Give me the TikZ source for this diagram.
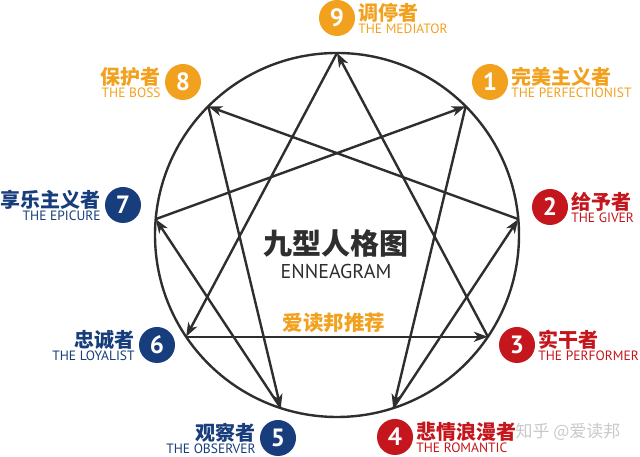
\documentclass[tikz,border=0pt]{standalone}
\usepackage{fontspec}
\setmainfont{PT Sans}
\newfontfamily\cjk{Noto Sans CJK SC}
\usetikzlibrary{calc,positioning,arrows.meta}

\definecolor{ennGold}{HTML}{F2A11E}
\definecolor{ennBlue}{HTML}{173D7C}
\definecolor{ennRed}{HTML}{C4161C}
\definecolor{ennLine}{HTML}{2E2E2E}
\definecolor{ennMark}{HTML}{C9C9C9}

\begin{document}
\begin{tikzpicture}[x=1pt,y=1pt,
    ennLine/.style={line width=2.4pt, draw=ennLine},
    ennArrow/.style={ennLine, -{Stealth[length=14pt,width=10pt,inset=4pt]}},
    badge/.style={circle, fill=#1, minimum size=36pt, inner sep=0pt, text=white,
        font=\bfseries\fontsize{25}{25}\selectfont},
    cnTitle/.style={inner sep=0pt, text=#1, font=\cjk\bfseries\fontsize{20}{20}\selectfont},
    enSub/.style={inner sep=0pt, text=#1, font=\fontsize{13.5}{13.5}\selectfont},
]

\newcommand{\drawLabelRight}[4]{
    \node[cnTitle=#2, anchor=west] (nTitle#1) at ($ (nBadge#1.east) + (3,5) $) {#3};
    \node[enSub=#2, anchor=west] (nSub#1) at ($ (nBadge#1.east) + (3,-11) $) {#4};
}

\newcommand{\drawLabelLeft}[4]{
    \node[cnTitle=#2, anchor=east] (nTitle#1) at ($ (nBadge#1.west) + (-4,5) $) {#3};
    \node[enSub=#2, anchor=east] (nSub#1) at ($ (nBadge#1.west) + (-4,-11) $) {#4};
}

\useasboundingbox (0,0) rectangle (640,457);

\coordinate (cCenterPt) at (337,222);
\draw[ennLine] (cCenterPt) circle (182pt);

\foreach \n/\a in {9/90,1/45,2/5,3/-34,4/-72,5/-108,6/214,7/175,8/135}
{
    \coordinate (cPt\n) at ($ (cCenterPt) + (\a:182pt) $);
}

\foreach \s/\e in {9/6,6/3,3/9,1/4,4/2,2/8,8/5,5/7,7/1}
{
    \draw[ennArrow] (cPt\s) -- (cPt\e);
}

\node[badge=ennGold] (nBadge9) at (337,439) {9};
\node[badge=ennGold] (nBadge8) at (183,375) {8};
\node[badge=ennGold] (nBadge1) at (490,375) {1};
\node[badge=ennBlue] (nBadge7) at (123,252) {7};
\node[badge=ennRed] (nBadge2) at (550,250) {2};
\node[badge=ennBlue] (nBadge6) at (157,112) {6};
\node[badge=ennRed] (nBadge3) at (517,112) {3};
\node[badge=ennBlue] (nBadge5) at (278,19) {5};
\node[badge=ennRed] (nBadge4) at (395,20) {4};

\drawLabelRight{9}{ennGold}{调停者}{THE MEDIATOR}
\drawLabelRight{1}{ennGold}{完美主义者}{THE PERFECTIONIST}
\drawLabelRight{2}{ennRed}{给予者}{THE GIVER}
\drawLabelRight{3}{ennRed}{实干者}{THE PERFORMER}
\drawLabelRight{4}{ennRed}{悲情浪漫者}{THE ROMANTIC}
\drawLabelLeft{8}{ennGold}{保护者}{THE BOSS}
\drawLabelLeft{7}{ennBlue}{享乐主义者}{THE EPICURE}
\drawLabelLeft{6}{ennBlue}{忠诚者}{THE LOYALIST}
\drawLabelLeft{5}{ennBlue}{观察者}{THE OBSERVER}

\node[inner sep=0pt, text=ennLine, font=\cjk\bfseries\fontsize{29}{29}\selectfont]
    (nTitle) at (336,214) {九型人格图};
\node[inner sep=0pt, text=ennLine, font=\fontsize{20}{20}\selectfont, below=7pt of nTitle]
    (nSubTitle) {ENNEAGRAM};
\node[inner sep=0pt, text=ennGold, font=\cjk\bfseries\fontsize{20.5}{20.5}\selectfont]
    (nRecommend) at (334,134) {爱读邦推荐};

\node[inner sep=0pt, text=ennMark, font=\cjk\fontsize{17}{17}\selectfont]
    (nMark) at (568,25) {知乎 @爱读邦};
\end{tikzpicture}
\end{document}
